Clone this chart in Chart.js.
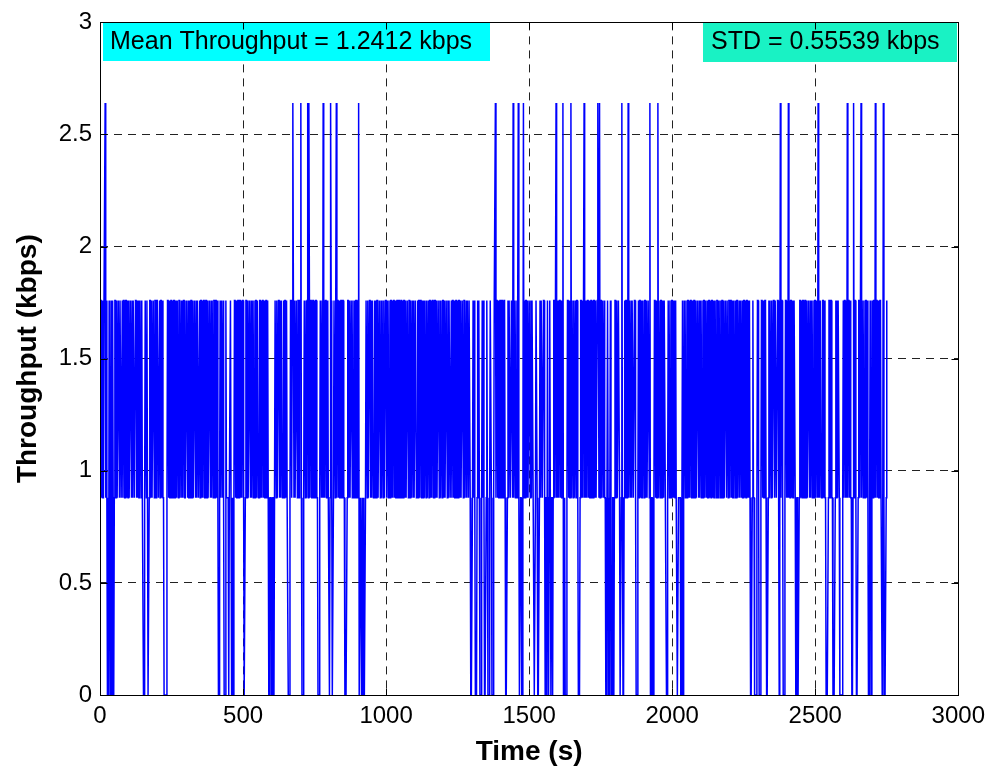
<!DOCTYPE html>
<html>
<head>
<meta charset="utf-8">
<title>Throughput</title>
<script src="https://cdn.jsdelivr.net/npm/chart.js@4.4.1/dist/chart.umd.min.js"></script>
<style>
  html, body { margin: 0; padding: 0; background: #fff; }
  #wrap { width: 992px; height: 774px; }
</style>
</head>
<body>
<div id="wrap"><canvas id="throughput" width="992" height="774"></canvas></div>
<script>
// one throughput sample every 2 s
const sampleStep = 2;
// kbps for 0, 1, 2 or 3 packets in a sample
const levelKbps = [0, 0.88, 1.76, 2.64];
// level index per sample, one row = 100 s
const levelRows = [
  "12212112231210102101202101221211221221121221122121",
  "21122121221122121211221211001221210012212112212212",
  "22112122121100000122121122121221121221221121212211",
  "12212112122121122121221121221212211221211221212212",
  "21221210012122121000211110112101001221211221221212",
  "21001221211221212212112212211221212212112212100111",
  "00110122121122121221121221211000122123212112212212",
  "23100012212123132122112212122110001221213121221121",
  "10132100122123122121122122110000122121122121121221",
  "12300110101000122121122121221121212211221212212112",
  "21221211221212212112212211221212212112212212112121",
  "12211212212211212122121121221212211221211221212212",
  "21211221212211212212112212122121122122112122122100",
  "01212100012121000121210001210001221000122312212112",
  "21221122100012122112213122121123100110013121221211",
  "22121221100122100012122112210110210121011012212312",
  "12122121130010001221211312212112122100012212123121",
  "21221211221212212112321312212212110012100121001101",
  "22121122100131001212211312212122112210001212212112",
  "21221211221300110012212113122122112122110012212112",
  "21212121100111100120122121122121221121221211221212",
  "21211221221211221212212112212211221212212112212212",
  "21221211221212211212212112212122121210001211000012",
  "21000122121122100012122121122122112210131221000122",
  "12131212212112210011001221212211221211221212212112",
  "21221312122112212110000122122110000121212210000012",
  "12212131221211001312210001221231221211221210012101",
  "21221312212112211013100012"
];
const xTicks = [0, 500, 1000, 1500, 2000, 2500, 3000];
const yTicks = [0, 0.5, 1, 1.5, 2, 2.5, 3];
const meanKbps = 1.2412;
const stdKbps = 0.55539;

const levelTrace = levelRows.join("");
const throughputPoints = Array.from(levelTrace, (c, i) => ({
    x: i * sampleStep,
    y: levelKbps[Number(c)],
}));

const font = "'Liberation Sans', Arial, Helvetica, sans-serif";

// stats boxes, full axes frame and inward tick marks
const axesFrame = {
    id: "axesFrame",
    afterDatasetsDraw(chart) {
        const { ctx, scales } = chart;
        const sx = scales.x;
        const sy = scales.y;
        const px = (v) => Math.round(sx.getPixelForValue(v)) + 0.5;
        const py = (v) => Math.round(sy.getPixelForValue(v)) + 0.5;
        const L = px(xTicks[0]);
        const R = px(xTicks[xTicks.length - 1]);
        const B = py(yTicks[0]);
        const T = py(yTicks[yTicks.length - 1]);

        ctx.save();
        ctx.font = `25px ${font}`;
        ctx.textBaseline = "middle";
        ctx.fillStyle = "#00FFFF";
        ctx.fillRect(103, 22, 387, 39);
        ctx.fillStyle = "#000";
        ctx.fillText(`Mean Throughput = ${meanKbps} kbps`, 110, 42);
        ctx.fillStyle = "#19F2C4";
        ctx.fillRect(703, 22, 254, 40);
        ctx.fillStyle = "#000";
        ctx.fillText(`STD = ${stdKbps} kbps`, 711, 42);

        ctx.strokeStyle = "#000";
        ctx.lineWidth = 1;
        ctx.setLineDash([]);
        ctx.strokeRect(L, T, R - L, B - T);

        const len = 7;
        ctx.beginPath();
        xTicks.forEach((v) => {
            const p = px(v);
            ctx.moveTo(p, B);
            ctx.lineTo(p, B - len);
            ctx.moveTo(p, T);
            ctx.lineTo(p, T + len);
        });
        yTicks.forEach((v) => {
            const p = py(v);
            ctx.moveTo(L, p);
            ctx.lineTo(L + len, p);
            ctx.moveTo(R, p);
            ctx.lineTo(R - len, p);
        });
        ctx.stroke();
        ctx.restore();
    },
};

const ctx = document.getElementById("throughput");
new Chart(ctx, {
    type: "line",
    data: {
        datasets: [
            {
                label: "Throughput",
                data: throughputPoints,
                borderColor: "#0000FF",
                borderWidth: 1.5,
                pointRadius: 0,
                tension: 0,
                fill: false,
            },
        ],
    },
    options: {
        responsive: false,
        animation: false,
        devicePixelRatio: 1,
        parsing: false,
        normalized: true,
        layout: { padding: { top: 20, right: 33, left: 0, bottom: 0 } },
        plugins: {
            legend: { display: false },
            tooltip: { enabled: false },
        },
        scales: {
            x: {
                type: "linear",
                min: 0,
                max: 3000,
                afterBuildTicks: (s) => {
                    s.ticks = xTicks.map((v) => ({ value: v }));
                },
                afterFit: (s) => {
                    s.height = 79;
                },
                grid: { color: "#222", lineWidth: 1, drawTicks: false },
                border: { display: false, dash: [8, 6] },
                ticks: {
                    color: "#000",
                    font: { family: font, size: 24 },
                    padding: 7,
                    maxRotation: 0,
                    autoSkip: false,
                    callback: (v) => String(v),
                },
                title: {
                    display: true,
                    text: "Time (s)",
                    color: "#000",
                    font: { family: font, size: 28, weight: "bold" },
                    padding: { top: 0, bottom: 5 },
                },
            },
            y: {
                min: 0,
                max: 3,
                afterBuildTicks: (s) => {
                    s.ticks = yTicks.map((v) => ({ value: v }));
                },
                afterFit: (s) => {
                    s.width = 100;
                },
                grid: { color: "#222", lineWidth: 1, drawTicks: false },
                border: { display: false, dash: [8, 6] },
                ticks: {
                    color: "#000",
                    font: { family: font, size: 24 },
                    padding: 8,
                    autoSkip: false,
                    callback: (v) => String(v),
                },
                title: {
                    display: true,
                    text: "Throughput (kbps)",
                    color: "#000",
                    font: { family: font, size: 28, weight: "bold" },
                    padding: { top: 11, bottom: 0 },
                },
            },
        },
    },
    plugins: [axesFrame],
});
</script>
</body>
</html>
